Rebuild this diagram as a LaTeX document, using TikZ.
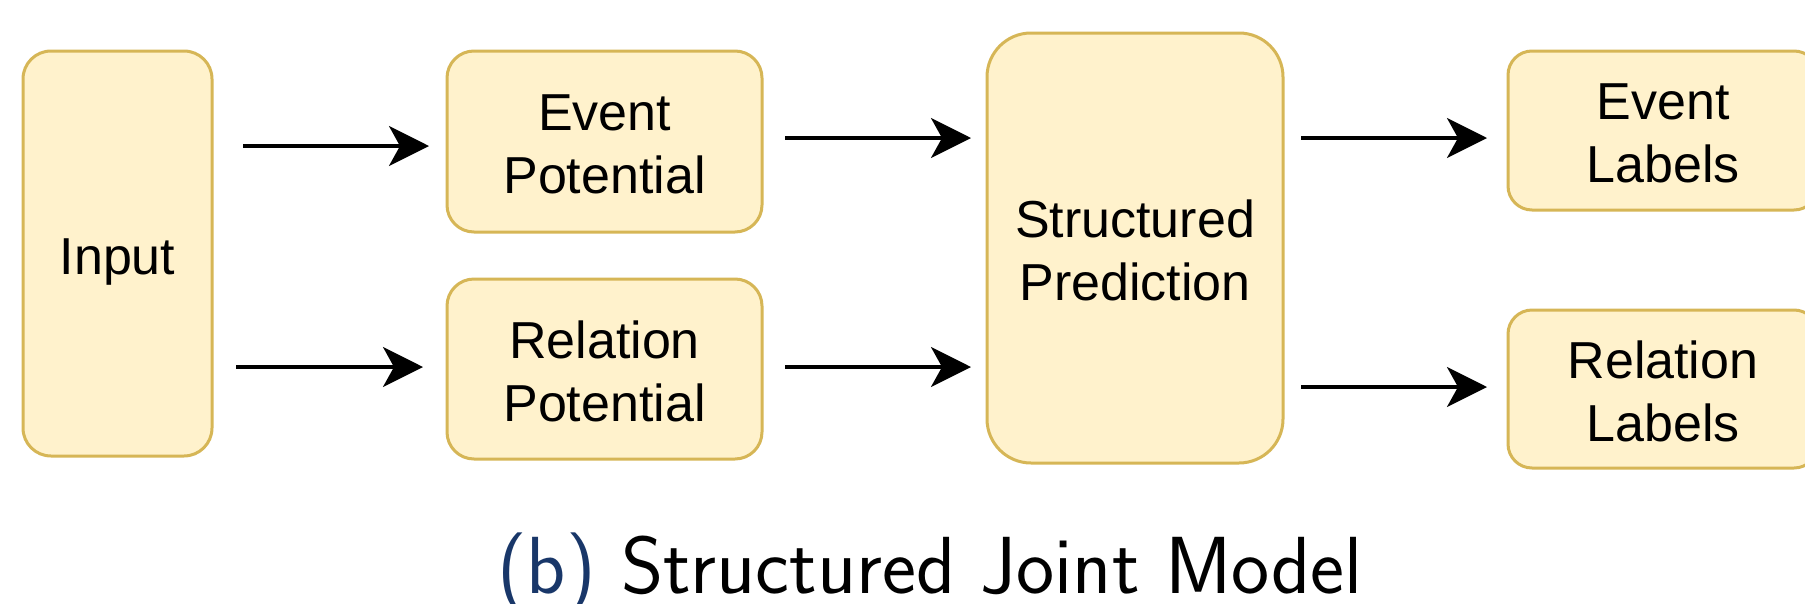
\documentclass[tikz,border=0pt]{standalone}
\usepackage{fontspec}
\usetikzlibrary{arrows.meta}
\newfontfamily\helv{Liberation Sans}
\newcommand\boxtext{\helv\fontsize{52pt}{63pt}\selectfont}
\newcommand\captext{\sffamily\fontsize{81pt}{96pt}\selectfont}
% invisible rule that lowers a two-line label slightly inside its block
\newcommand\toppad{\rule{0pt}{42pt}}
\definecolor{boxfill}{HTML}{FFF2CC}
\definecolor{boxline}{HTML}{D6B656}
\definecolor{capblue}{RGB}{25,55,105}
\tikzset{
  box/.style={draw=boxline, fill=boxfill, line width=3pt, rounded corners=#1,
    align=center, inner sep=0pt, outer sep=0pt, font=\boxtext},
  arr/.style={line width=3.3pt, -{Stealth[length=40pt,width=40pt,inset=11pt]}},
}
\begin{document}
\begin{tikzpicture}[x=1pt, y=-1pt]
  \useasboundingbox (0,0) rectangle (1805,603);
  \fill[white] (0,0) rectangle (1805,603);
  \clip (0,0) rectangle (1805,603);

  % blocks
  \node[box=28pt, minimum width=189pt, minimum height=405pt,
        text height=48pt, text depth=6pt] (in) at (117.5,253.5) {Input};
  \node[box=27pt, minimum width=315pt, minimum height=181pt] (ep) at (604.5,141.5) {Event\toppad\\Potential};
  \node[box=27pt, minimum width=315pt, minimum height=180pt] (rp) at (604.5,369) {Relation\toppad\\Potential};
  \node[box=44pt, minimum width=296pt, minimum height=430pt] (sp) at (1135,248) {Structured\toppad\\Prediction};
  \node[box=24pt, minimum width=310pt, minimum height=159pt] (el) at (1663,130.5) {Event\toppad\\Labels};
  \node[box=24pt, minimum width=310pt, minimum height=158pt] (rl) at (1663,389) {Relation\toppad\\Labels};

  % arrow end points, just short of the target blocks
  \coordinate (t1) at ([yshift=-4.5pt]ep.west);
  \coordinate (t2) at ([yshift=2pt]rp.west);
  \coordinate (t3) at ([yshift=3.5pt]sp.west |- ep.west);
  \coordinate (t4) at ([yshift=2pt]sp.west |- rp.west);
  \coordinate (t5) at ([yshift=-7.5pt]el.west);
  \coordinate (t6) at ([yshift=2pt]rl.west);

  % connectors
  \draw[arr, shorten <=31pt, shorten >=18pt] (in.east |- t1) -- (t1);
  \draw[arr, shorten <=24pt, shorten >=24pt] (in.east |- t2) -- (t2);
  \draw[arr, shorten <=23pt, shorten >=16pt] (ep.east |- t3) -- (t3);
  \draw[arr, shorten <=23pt, shorten >=16pt] (rp.east |- t4) -- (t4);
  \draw[arr, shorten <=18pt, shorten >=21pt] (sp.east |- t5) -- (t5);
  \draw[arr, shorten <=18pt, shorten >=21pt] (sp.east |- t6) -- (t6);

  % caption
  \node[anchor=base west, inner sep=0pt, font=\captext] (cap) at (497,593)
    {\textcolor{capblue}{(b)} Structured Joint Model};
\end{tikzpicture}
\end{document}
